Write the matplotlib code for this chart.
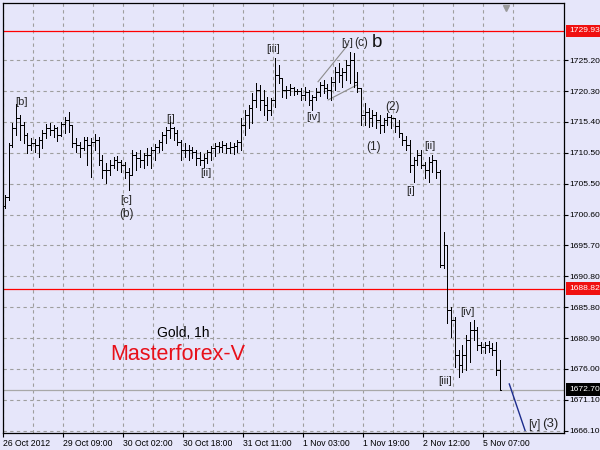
import matplotlib
matplotlib.use('Agg')
import matplotlib.pyplot as plt
import matplotlib.transforms as mtransforms
from matplotlib.collections import LineCollection

plt.rcParams['font.family'] = ['Liberation Sans', 'DejaVu Sans']

BG = '#E6E6FA'

# ---- data (Gold, H1) ----
first_open = 1702.0
highs = [
    1703.7, 1712.0, 1715.2, 1718.3, 1716.5, 1715.4, 1713.6, 1712.8, 1712.7, 1713.0,
    1714.1, 1715.1, 1715.2, 1714.9, 1714.6, 1715.4, 1716.2, 1717.0, 1714.9, 1712.8,
    1712.2, 1713.0, 1713.0, 1712.8, 1713.5, 1713.0, 1710.1, 1708.8, 1709.3, 1709.8,
    1710.0, 1709.3, 1709.0, 1708.0, 1710.9, 1710.6, 1710.9, 1710.4, 1711.2, 1711.4,
    1711.9, 1712.5, 1713.8, 1714.6, 1715.4, 1714.6, 1714.1, 1712.5, 1712.0, 1711.7,
    1711.4, 1710.9, 1710.6, 1710.3, 1710.9, 1711.6, 1712.0, 1712.2, 1712.4, 1712.0,
    1712.2, 1712.0, 1712.5, 1716.0, 1717.3, 1718.1, 1720.0, 1721.6, 1721.3, 1720.5,
    1719.4, 1719.2, 1725.6, 1724.5, 1722.4, 1721.1, 1721.4, 1721.0, 1720.6, 1720.8,
    1721.0, 1720.5, 1719.7, 1720.8, 1721.8, 1722.1, 1721.4, 1722.6, 1724.2, 1724.8,
    1724.0, 1725.3, 1726.6, 1726.4, 1723.4, 1720.8, 1718.4, 1717.6, 1717.3, 1717.0,
    1716.5, 1716.0, 1716.8, 1716.5, 1716.0, 1715.7, 1713.6, 1713.2, 1712.5, 1709.8,
    1710.9, 1710.9, 1709.0, 1709.8, 1710.1, 1709.3, 1707.7, 1697.8, 1695.8, 1685.9,
    1684.3, 1679.0, 1679.8, 1681.4, 1683.5, 1683.8, 1682.7, 1680.3, 1680.3, 1680.5,
    1680.1, 1680.3, 1677.4]
lows = [
    1701.7, 1702.9, 1711.4, 1713.3, 1712.5, 1712.0, 1710.4, 1710.9, 1710.6, 1709.8,
    1711.2, 1712.8, 1713.3, 1713.0, 1712.4, 1713.2, 1713.6, 1713.8, 1711.4, 1710.6,
    1709.8, 1710.9, 1708.5, 1706.6, 1710.9, 1708.5, 1706.5, 1705.7, 1706.9, 1708.0,
    1707.7, 1707.4, 1706.5, 1704.5, 1706.9, 1707.7, 1708.2, 1708.0, 1708.5, 1708.0,
    1709.3, 1710.6, 1710.9, 1712.0, 1712.8, 1712.5, 1711.7, 1709.3, 1709.8, 1709.3,
    1709.6, 1708.5, 1708.5, 1708.2, 1708.8, 1709.3, 1710.0, 1710.6, 1710.6, 1710.4,
    1710.4, 1710.3, 1710.6, 1710.9, 1713.3, 1714.4, 1715.2, 1717.8, 1717.3, 1716.5,
    1715.7, 1716.5, 1717.8, 1721.6, 1719.4, 1719.2, 1719.7, 1719.7, 1719.9, 1718.9,
    1718.9, 1718.1, 1717.3, 1718.9, 1719.5, 1720.0, 1719.2, 1718.9, 1720.5, 1721.8,
    1721.0, 1722.1, 1721.6, 1721.0, 1720.2, 1714.9, 1714.9, 1714.6, 1714.7, 1714.4,
    1713.6, 1713.8, 1714.9, 1714.4, 1713.8, 1713.0, 1711.7, 1710.9, 1707.4, 1705.8,
    1708.5, 1708.0, 1706.5, 1705.8, 1707.4, 1706.5, 1692.3, 1692.1, 1683.3, 1681.1,
    1676.3, 1674.7, 1675.5, 1675.8, 1677.1, 1680.6, 1679.0, 1678.5, 1678.5, 1678.7,
    1678.2, 1675.0, 1672.7]
closes = [
    1703.4, 1711.7, 1714.4, 1716.0, 1714.9, 1713.3, 1711.7, 1712.0, 1711.7, 1712.5,
    1713.6, 1714.4, 1714.1, 1714.4, 1713.3, 1715.1, 1715.7, 1714.9, 1712.0, 1711.7,
    1711.2, 1712.5, 1711.7, 1712.2, 1712.5, 1709.3, 1707.7, 1707.7, 1708.5, 1709.3,
    1709.0, 1708.5, 1707.4, 1706.9, 1710.1, 1709.6, 1709.3, 1710.1, 1710.1, 1710.9,
    1711.4, 1712.2, 1713.3, 1714.1, 1714.4, 1713.6, 1712.2, 1710.9, 1710.9, 1710.9,
    1710.6, 1709.6, 1709.3, 1709.6, 1710.6, 1711.2, 1711.6, 1711.4, 1711.7, 1711.2,
    1711.4, 1711.6, 1712.2, 1714.9, 1716.5, 1717.6, 1718.9, 1720.5, 1718.9, 1718.1,
    1717.3, 1718.9, 1722.9, 1722.4, 1720.5, 1720.5, 1720.8, 1720.3, 1720.3, 1719.7,
    1720.2, 1718.9, 1719.4, 1720.2, 1721.3, 1720.8, 1720.5, 1721.8, 1723.4, 1722.9,
    1723.4, 1724.5, 1725.3, 1721.8, 1720.8, 1716.5, 1717.0, 1716.0, 1716.5, 1715.7,
    1714.9, 1715.7, 1716.2, 1716.0, 1714.7, 1713.6, 1712.5, 1711.7, 1708.5, 1709.3,
    1710.1, 1708.5, 1707.7, 1709.0, 1709.3, 1707.4, 1692.6, 1695.8, 1685.4, 1683.8,
    1678.2, 1676.6, 1678.2, 1680.6, 1682.2, 1682.2, 1679.8, 1679.5, 1679.8, 1679.3,
    1679.0, 1675.8, 1672.7]
opens = [first_open] + closes[:-1]

price_ticks = [1666.10, 1671.10, 1676.00, 1680.90, 1685.80, 1690.80, 1695.70,
               1700.60, 1705.50, 1710.50, 1715.40, 1720.30, 1725.20]
date_labels = ['26 Oct 2012', '29 Oct 09:00', '30 Oct 02:00', '30 Oct 18:00',
               '31 Oct 11:00', '1 Nov 03:00', '1 Nov 19:00', '2 Nov 12:00',
               '5 Nov 07:00']
date_bar_pos = [-0.5, 15.5, 31.5, 47.5, 63.5, 79.5, 95.5, 111.5, 127.5]

red_levels = [1729.93, 1688.82]
current_price = 1672.70

wave_labels = [
    ('[b]', 4.4, 1718.6, 8), ('[c]', 32.3, 1702.9, 8), ('(b)', 32.3, 1700.7, 8.5),
    ('[i]', 44.2, 1715.8, 8), ('[ii]', 53.6, 1707.3, 8), ('[iii]', 71.4, 1727.0, 8),
    ('[iv]', 82.2, 1716.2, 8), ('[y]', 91.2, 1728.0, 8), ('(c)', 95.1, 1728.0, 8.5),
    ('(1)', 98.2, 1711.4, 8.5), ('(2)', 103.3, 1717.8, 8.5), ('[i]', 108.2, 1704.4, 8),
    ('[ii]', 113.3, 1711.6, 8), ('[iii]', 117.3, 1674.1, 8), ('[iv]', 123.3, 1685.0, 8),
    ('[v]', 141.1, 1667.0, 8.5), ('(3)', 145.3, 1667.2, 9.5),
]
wedge_upper = ([83.5, 91.5], [1721.8, 1727.7])
wedge_lower = ([86.2, 93.9], [1718.9, 1721.3])
projection = ([134.5, 138.7], [1673.6, 1666.2])

# ---- figure ----
fig = plt.figure(figsize=(6, 4.5), dpi=100, facecolor=BG)
ax = fig.add_axes([3 / 600, 17 / 450, 561 / 600, 430 / 450], facecolor=BG)
ax.set_xlim(-0.507, 149.09)
ax.set_ylim(1665.78, 1734.36)

n = len(highs)
tick = 0.4
vert, left, right = [], [], []
for i in range(n):
    vert.append([(i, lows[i]), (i, highs[i])])
    left.append([(i - tick, opens[i]), (i, opens[i])])
    right.append([(i, closes[i]), (i + tick, closes[i])])
lc = LineCollection(vert + left + right, colors='black', linewidths=0.72,
                    antialiased=False, zorder=3)
ax.add_collection(lc)

# level lines
for lv in red_levels:
    ax.axhline(lv, color='#FF0000', lw=0.9, zorder=2)
ax.axhline(current_price, color='#A8A8A8', lw=0.9, zorder=2)

# wedge & projection lines
ax.plot(*wedge_upper, color='#8C8C8C', lw=0.8, zorder=2)
ax.plot(*wedge_lower, color='#8C8C8C', lw=0.8, zorder=2)
ax.plot(*projection, color='#1C2C8C', lw=1.0, zorder=2)

# wave labels
for txt, x, y, fs in wave_labels:
    ax.text(x, y, txt, fontsize=fs, color='#262626', ha='center', va='center', zorder=4)
ax.text(99.2, 1728.1, 'b', fontsize=13.5, color='#111111', ha='center', va='center', zorder=4)

ax.text(47.6, 1681.1, 'Gold, 1h', fontsize=10, color='black', ha='center', va='baseline')
ax.text(46.0, 1677.4, 'Masterforex-V', fontsize=15.5, color='#E8101A', ha='center', va='baseline')

# shift marker triangle
ax.plot([133.6], [1733.6], marker='v', markersize=5, color='#9A9A9A', zorder=5, clip_on=False)

# axes styling
for s in ax.spines.values():
    s.set_color('black')
    s.set_linewidth(0.9)

ax.yaxis.tick_right()
ax.set_yticks(price_ticks)
ax.set_yticklabels([f'{v:.2f}' for v in price_ticks])
ax.set_xticks(date_bar_pos)
ax.set_xticklabels(date_labels)
for lab in ax.get_xticklabels():
    lab.set_horizontalalignment('left')
ax.set_xticks([p + 8 for p in date_bar_pos], minor=True)
ax.tick_params(axis='x', which='major', direction='out', length=3, width=0.8,
               labelsize=6.2, pad=1.5, colors='black')
ax.tick_params(axis='x', which='minor', length=0)
ax.tick_params(axis='y', which='major', direction='out', length=3, width=0.8,
               labelsize=6.1, pad=1.2, colors='black')
ax.grid(True, which='both', color='#9E9E9E', linestyle=(0, (3, 3)), linewidth=0.8, zorder=0)
ax.set_axisbelow(True)

# price boxes on the right axis
trans = mtransforms.blended_transform_factory(ax.transAxes, ax.transData)
xbox = 1 + 5 / 561
for lv in red_levels:
    ax.text(xbox, lv, f'{lv:.2f}', transform=trans, fontsize=6.1, color='white',
            ha='left', va='center', clip_on=False, zorder=10,
            bbox=dict(boxstyle='square,pad=0.32', fc='#F01010', ec='none'))
ax.text(xbox, current_price, f'{current_price:.2f}', transform=trans, fontsize=6.1,
        color='white', ha='left', va='center', clip_on=False, zorder=10,
        bbox=dict(boxstyle='square,pad=0.32', fc='black', ec='none'))

fig.savefig('out.png', dpi=100, facecolor=BG)
